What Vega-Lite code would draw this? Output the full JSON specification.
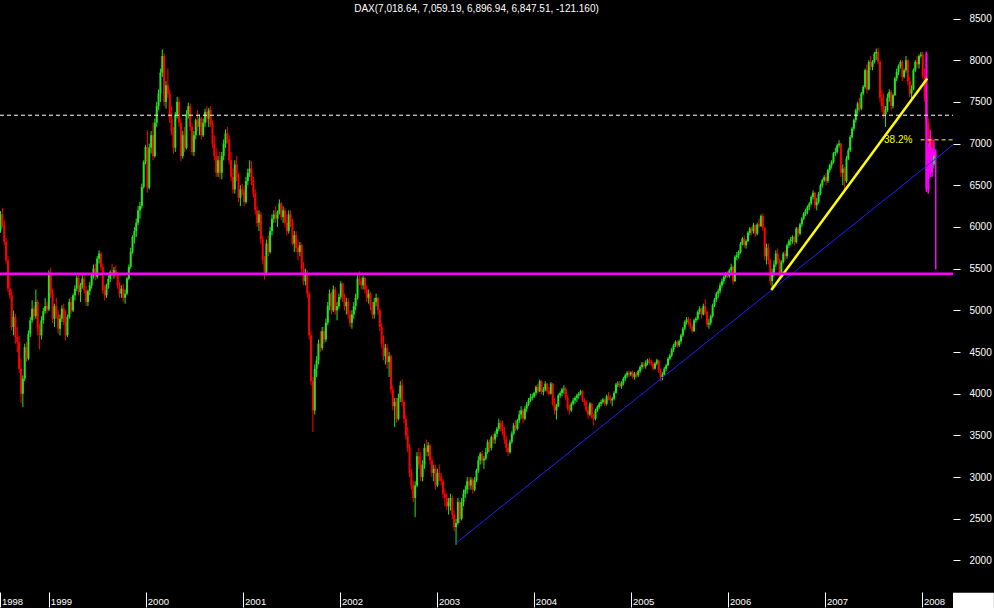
{
"$schema":"https://vega.github.io/schema/vega-lite/v6.json",
"width":953,"height":592,
"autosize":{"type":"none"},
"padding":{"left":0,"top":0,"right":41,"bottom":16},
"background":"#000000",
"config":{"view":{"stroke":null},"axis":{"grid":false}},
"resolve":{"axis":{"x":"independent","y":"independent"}},
"datasets":{
"w":[
{"d":"1998-184","o":5960,"h":6190,"l":5930,"c":6150},
{"d":"1998-191","o":6150,"h":6230,"l":5990,"c":6020},
{"d":"1998-198","o":6020,"h":6080,"l":5780,"c":5820},
{"d":"1998-205","o":5820,"h":5870,"l":5560,"c":5600},
{"d":"1998-212","o":5600,"h":5650,"l":5220,"c":5260},
{"d":"1998-219","o":5260,"h":5400,"l":5140,"c":5180},
{"d":"1998-226","o":5180,"h":5250,"l":4760,"c":4800},
{"d":"1998-233","o":4800,"h":5000,"l":4700,"c":4920},
{"d":"1998-240","o":4920,"h":4960,"l":4600,"c":4680},
{"d":"1998-247","o":4680,"h":4800,"l":4500,"c":4620},
{"d":"1998-254","o":4620,"h":4700,"l":4250,"c":4300},
{"d":"1998-261","o":4300,"h":4420,"l":3890,"c":4000},
{"d":"1998-268","o":4000,"h":4220,"l":3840,"c":4180},
{"d":"1998-275","o":4180,"h":4600,"l":4150,"c":4560},
{"d":"1998-282","o":4560,"h":4620,"l":4380,"c":4420},
{"d":"1998-289","o":4420,"h":4760,"l":4400,"c":4720},
{"d":"1998-296","o":4720,"h":4920,"l":4680,"c":4880},
{"d":"1998-303","o":4880,"h":5120,"l":4850,"c":5020},
{"d":"1998-310","o":5020,"h":5060,"l":4880,"c":4930},
{"d":"1998-317","o":4930,"h":5250,"l":4900,"c":5100},
{"d":"1998-324","o":5100,"h":5130,"l":4700,"c":4780},
{"d":"1998-331","o":4780,"h":4840,"l":4530,"c":4700},
{"d":"1998-338","o":4700,"h":4930,"l":4650,"c":4880},
{"d":"1998-345","o":4880,"h":5030,"l":4840,"c":4990},
{"d":"1998-352","o":4990,"h":5150,"l":4960,"c":5050},
{"d":"1998-359","o":5050,"h":5100,"l":4960,"c":5010},
{"d":"1999-001","o":5010,"h":5480,"l":4990,"c":5450},
{"d":"1999-008","o":5450,"h":5510,"l":5150,"c":5200},
{"d":"1999-015","o":5200,"h":5260,"l":4850,"c":4900},
{"d":"1999-022","o":4900,"h":5080,"l":4800,"c":5050},
{"d":"1999-029","o":5050,"h":5150,"l":4900,"c":4950},
{"d":"1999-036","o":4950,"h":5000,"l":4720,"c":4780},
{"d":"1999-043","o":4780,"h":4950,"l":4700,"c":4900},
{"d":"1999-050","o":4900,"h":5060,"l":4860,"c":5020},
{"d":"1999-057","o":5020,"h":5080,"l":4820,"c":4860},
{"d":"1999-064","o":4860,"h":5000,"l":4640,"c":4700},
{"d":"1999-071","o":4700,"h":4950,"l":4680,"c":4920},
{"d":"1999-078","o":4920,"h":5140,"l":4900,"c":5100},
{"d":"1999-085","o":5100,"h":5160,"l":4960,"c":5000},
{"d":"1999-092","o":5000,"h":5200,"l":4980,"c":5180},
{"d":"1999-099","o":5180,"h":5300,"l":5120,"c":5260},
{"d":"1999-106","o":5260,"h":5420,"l":5230,"c":5390},
{"d":"1999-113","o":5390,"h":5450,"l":5180,"c":5220},
{"d":"1999-120","o":5220,"h":5330,"l":5100,"c":5300},
{"d":"1999-127","o":5300,"h":5420,"l":5260,"c":5380},
{"d":"1999-134","o":5380,"h":5450,"l":5200,"c":5240},
{"d":"1999-141","o":5240,"h":5290,"l":5050,"c":5100},
{"d":"1999-148","o":5100,"h":5250,"l":5050,"c":5230},
{"d":"1999-155","o":5230,"h":5340,"l":5180,"c":5300},
{"d":"1999-162","o":5300,"h":5450,"l":5260,"c":5420},
{"d":"1999-169","o":5420,"h":5550,"l":5380,"c":5500},
{"d":"1999-176","o":5500,"h":5560,"l":5360,"c":5400},
{"d":"1999-183","o":5400,"h":5650,"l":5380,"c":5620},
{"d":"1999-190","o":5620,"h":5720,"l":5560,"c":5680},
{"d":"1999-197","o":5680,"h":5700,"l":5480,"c":5520},
{"d":"1999-204","o":5520,"h":5560,"l":5200,"c":5240},
{"d":"1999-211","o":5240,"h":5300,"l":5120,"c":5180},
{"d":"1999-218","o":5180,"h":5320,"l":5150,"c":5300},
{"d":"1999-225","o":5300,"h":5420,"l":5260,"c":5380},
{"d":"1999-232","o":5380,"h":5480,"l":5340,"c":5460},
{"d":"1999-239","o":5460,"h":5560,"l":5400,"c":5420},
{"d":"1999-246","o":5420,"h":5520,"l":5380,"c":5480},
{"d":"1999-253","o":5480,"h":5540,"l":5400,"c":5430},
{"d":"1999-260","o":5430,"h":5460,"l":5260,"c":5300},
{"d":"1999-267","o":5300,"h":5340,"l":5150,"c":5200},
{"d":"1999-274","o":5200,"h":5300,"l":5150,"c":5260},
{"d":"1999-281","o":5260,"h":5320,"l":5100,"c":5150},
{"d":"1999-288","o":5150,"h":5250,"l":5080,"c":5200},
{"d":"1999-295","o":5200,"h":5400,"l":5180,"c":5380},
{"d":"1999-302","o":5380,"h":5550,"l":5360,"c":5520},
{"d":"1999-309","o":5520,"h":5750,"l":5500,"c":5700},
{"d":"1999-316","o":5700,"h":5900,"l":5680,"c":5880},
{"d":"1999-323","o":5880,"h":6000,"l":5800,"c":5950},
{"d":"1999-330","o":5950,"h":6100,"l":5880,"c":6050},
{"d":"1999-337","o":6050,"h":6250,"l":6020,"c":6200},
{"d":"1999-344","o":6200,"h":6300,"l":6100,"c":6250},
{"d":"1999-351","o":6250,"h":6520,"l":6220,"c":6480},
{"d":"1999-358","o":6480,"h":6800,"l":6460,"c":6780},
{"d":"1999-365","o":6780,"h":6980,"l":6750,"c":6958},
{"d":"2000-007","o":6958,"h":7160,"l":6410,"c":6470},
{"d":"2000-014","o":6470,"h":7000,"l":6450,"c":6950},
{"d":"2000-021","o":6950,"h":7150,"l":6880,"c":7100},
{"d":"2000-028","o":7100,"h":7250,"l":6800,"c":6850},
{"d":"2000-035","o":6850,"h":7300,"l":6830,"c":7250},
{"d":"2000-042","o":7250,"h":7500,"l":7200,"c":7450},
{"d":"2000-049","o":7450,"h":7650,"l":7400,"c":7600},
{"d":"2000-056","o":7600,"h":7900,"l":7500,"c":7850},
{"d":"2000-063","o":7850,"h":8130,"l":7800,"c":8050},
{"d":"2000-070","o":8050,"h":8080,"l":7450,"c":7500},
{"d":"2000-077","o":7500,"h":7750,"l":7420,"c":7700},
{"d":"2000-084","o":7700,"h":7900,"l":7550,"c":7600},
{"d":"2000-091","o":7600,"h":7650,"l":7250,"c":7300},
{"d":"2000-098","o":7300,"h":7450,"l":7100,"c":7150},
{"d":"2000-105","o":7150,"h":7200,"l":6880,"c":6950},
{"d":"2000-112","o":6950,"h":7380,"l":6900,"c":7350},
{"d":"2000-119","o":7350,"h":7560,"l":7300,"c":7500},
{"d":"2000-126","o":7500,"h":7550,"l":7200,"c":7250},
{"d":"2000-133","o":7250,"h":7300,"l":6790,"c":6850},
{"d":"2000-140","o":6850,"h":7150,"l":6820,"c":7100},
{"d":"2000-147","o":7100,"h":7200,"l":6900,"c":6950},
{"d":"2000-154","o":6950,"h":7400,"l":6930,"c":7350},
{"d":"2000-161","o":7350,"h":7490,"l":7300,"c":7450},
{"d":"2000-168","o":7450,"h":7480,"l":7150,"c":7200},
{"d":"2000-175","o":7200,"h":7250,"l":6860,"c":6900},
{"d":"2000-182","o":6900,"h":7150,"l":6850,"c":7100},
{"d":"2000-189","o":7100,"h":7300,"l":7050,"c":7280},
{"d":"2000-196","o":7280,"h":7400,"l":7150,"c":7200},
{"d":"2000-203","o":7200,"h":7350,"l":7100,"c":7300},
{"d":"2000-210","o":7300,"h":7320,"l":7050,"c":7100},
{"d":"2000-217","o":7100,"h":7300,"l":7080,"c":7250},
{"d":"2000-224","o":7250,"h":7420,"l":7200,"c":7380},
{"d":"2000-231","o":7380,"h":7450,"l":7250,"c":7300},
{"d":"2000-238","o":7300,"h":7430,"l":7200,"c":7400},
{"d":"2000-245","o":7400,"h":7450,"l":7200,"c":7230},
{"d":"2000-252","o":7230,"h":7280,"l":6950,"c":7000},
{"d":"2000-259","o":7000,"h":7100,"l":6800,"c":6850},
{"d":"2000-266","o":6850,"h":6950,"l":6600,"c":6650},
{"d":"2000-273","o":6650,"h":6850,"l":6600,"c":6800},
{"d":"2000-280","o":6800,"h":6900,"l":6580,"c":6650},
{"d":"2000-287","o":6650,"h":6900,"l":6570,"c":6850},
{"d":"2000-294","o":6850,"h":7050,"l":6800,"c":7000},
{"d":"2000-301","o":7000,"h":7170,"l":6950,"c":7120},
{"d":"2000-308","o":7120,"h":7200,"l":7000,"c":7050},
{"d":"2000-315","o":7050,"h":7100,"l":6750,"c":6800},
{"d":"2000-322","o":6800,"h":6900,"l":6550,"c":6600},
{"d":"2000-329","o":6600,"h":6700,"l":6400,"c":6450},
{"d":"2000-336","o":6450,"h":6800,"l":6400,"c":6750},
{"d":"2000-343","o":6750,"h":6850,"l":6550,"c":6600},
{"d":"2000-350","o":6600,"h":6650,"l":6300,"c":6350},
{"d":"2000-357","o":6350,"h":6500,"l":6250,"c":6450},
{"d":"2000-364","o":6450,"h":6520,"l":6380,"c":6434},
{"d":"2001-005","o":6434,"h":6500,"l":6250,"c":6300},
{"d":"2001-012","o":6300,"h":6600,"l":6280,"c":6550},
{"d":"2001-019","o":6550,"h":6700,"l":6500,"c":6650},
{"d":"2001-026","o":6650,"h":6800,"l":6600,"c":6700},
{"d":"2001-033","o":6700,"h":6790,"l":6500,"c":6550},
{"d":"2001-040","o":6550,"h":6600,"l":6350,"c":6400},
{"d":"2001-047","o":6400,"h":6450,"l":6150,"c":6200},
{"d":"2001-054","o":6200,"h":6250,"l":6000,"c":6050},
{"d":"2001-061","o":6050,"h":6200,"l":5950,"c":6150},
{"d":"2001-068","o":6150,"h":6180,"l":5800,"c":5850},
{"d":"2001-075","o":5850,"h":5900,"l":5550,"c":5600},
{"d":"2001-082","o":5600,"h":5650,"l":5370,"c":5450},
{"d":"2001-089","o":5450,"h":5850,"l":5420,"c":5800},
{"d":"2001-096","o":5800,"h":5900,"l":5650,"c":5700},
{"d":"2001-103","o":5700,"h":6000,"l":5680,"c":5950},
{"d":"2001-110","o":5950,"h":6150,"l":5900,"c":6100},
{"d":"2001-117","o":6100,"h":6200,"l":6050,"c":6150},
{"d":"2001-124","o":6150,"h":6250,"l":6050,"c":6100},
{"d":"2001-131","o":6100,"h":6200,"l":6000,"c":6180},
{"d":"2001-138","o":6180,"h":6330,"l":6150,"c":6280},
{"d":"2001-145","o":6280,"h":6300,"l":6080,"c":6120},
{"d":"2001-152","o":6120,"h":6250,"l":6050,"c":6200},
{"d":"2001-159","o":6200,"h":6230,"l":6000,"c":6050},
{"d":"2001-166","o":6050,"h":6150,"l":5900,"c":5950},
{"d":"2001-173","o":5950,"h":6200,"l":5920,"c":6150},
{"d":"2001-180","o":6150,"h":6200,"l":6000,"c":6050},
{"d":"2001-187","o":6050,"h":6100,"l":5780,"c":5800},
{"d":"2001-194","o":5800,"h":5950,"l":5700,"c":5900},
{"d":"2001-201","o":5900,"h":5950,"l":5700,"c":5750},
{"d":"2001-208","o":5750,"h":5850,"l":5600,"c":5700},
{"d":"2001-215","o":5700,"h":5820,"l":5650,"c":5780},
{"d":"2001-222","o":5780,"h":5800,"l":5450,"c":5500},
{"d":"2001-229","o":5500,"h":5580,"l":5300,"c":5350},
{"d":"2001-236","o":5350,"h":5500,"l":5300,"c":5450},
{"d":"2001-243","o":5450,"h":5480,"l":5150,"c":5200},
{"d":"2001-250","o":5200,"h":5230,"l":4650,"c":4700},
{"d":"2001-257","o":4700,"h":4750,"l":4100,"c":4150},
{"d":"2001-264","o":4150,"h":4200,"l":3540,"c":3800},
{"d":"2001-271","o":3800,"h":4350,"l":3750,"c":4300},
{"d":"2001-278","o":4300,"h":4450,"l":4200,"c":4400},
{"d":"2001-285","o":4400,"h":4650,"l":4350,"c":4600},
{"d":"2001-292","o":4600,"h":4750,"l":4500,"c":4550},
{"d":"2001-299","o":4550,"h":4800,"l":4520,"c":4750},
{"d":"2001-306","o":4750,"h":4800,"l":4600,"c":4650},
{"d":"2001-313","o":4650,"h":4900,"l":4620,"c":4850},
{"d":"2001-320","o":4850,"h":5100,"l":4820,"c":5050},
{"d":"2001-327","o":5050,"h":5250,"l":5000,"c":5200},
{"d":"2001-334","o":5200,"h":5220,"l":4950,"c":5000},
{"d":"2001-341","o":5000,"h":5300,"l":4980,"c":5250},
{"d":"2001-348","o":5250,"h":5280,"l":4950,"c":5000},
{"d":"2001-355","o":5000,"h":5100,"l":4880,"c":5050},
{"d":"2001-362","o":5050,"h":5200,"l":5020,"c":5160},
{"d":"2002-004","o":5160,"h":5350,"l":5130,"c":5320},
{"d":"2002-011","o":5320,"h":5330,"l":5100,"c":5150},
{"d":"2002-018","o":5150,"h":5200,"l":5000,"c":5050},
{"d":"2002-025","o":5050,"h":5150,"l":4950,"c":5100},
{"d":"2002-032","o":5100,"h":5150,"l":4900,"c":4950},
{"d":"2002-039","o":4950,"h":5000,"l":4800,"c":4850},
{"d":"2002-046","o":4850,"h":5000,"l":4780,"c":4950},
{"d":"2002-053","o":4950,"h":5100,"l":4900,"c":5050},
{"d":"2002-060","o":5050,"h":5200,"l":5000,"c":5150},
{"d":"2002-067","o":5150,"h":5420,"l":5130,"c":5380},
{"d":"2002-074","o":5380,"h":5467,"l":5300,"c":5350},
{"d":"2002-081","o":5350,"h":5400,"l":5250,"c":5300},
{"d":"2002-088","o":5300,"h":5420,"l":5250,"c":5390},
{"d":"2002-095","o":5390,"h":5400,"l":5200,"c":5250},
{"d":"2002-102","o":5250,"h":5300,"l":5100,"c":5150},
{"d":"2002-109","o":5150,"h":5250,"l":5080,"c":5200},
{"d":"2002-116","o":5200,"h":5220,"l":5000,"c":5050},
{"d":"2002-123","o":5050,"h":5100,"l":4900,"c":4950},
{"d":"2002-130","o":4950,"h":5150,"l":4900,"c":5100},
{"d":"2002-137","o":5100,"h":5200,"l":5050,"c":5150},
{"d":"2002-144","o":5150,"h":5160,"l":4950,"c":5000},
{"d":"2002-151","o":5000,"h":5020,"l":4750,"c":4800},
{"d":"2002-158","o":4800,"h":4850,"l":4550,"c":4600},
{"d":"2002-165","o":4600,"h":4700,"l":4400,"c":4450},
{"d":"2002-172","o":4450,"h":4600,"l":4350,"c":4550},
{"d":"2002-179","o":4550,"h":4600,"l":4300,"c":4380},
{"d":"2002-186","o":4380,"h":4500,"l":4200,"c":4450},
{"d":"2002-193","o":4450,"h":4470,"l":4000,"c":4050},
{"d":"2002-200","o":4050,"h":4100,"l":3800,"c":3850},
{"d":"2002-207","o":3850,"h":3950,"l":3600,"c":3900},
{"d":"2002-214","o":3900,"h":3950,"l":3650,"c":3700},
{"d":"2002-221","o":3700,"h":4000,"l":3680,"c":3950},
{"d":"2002-228","o":3950,"h":4150,"l":3900,"c":4100},
{"d":"2002-235","o":4100,"h":4170,"l":3850,"c":3900},
{"d":"2002-242","o":3900,"h":3920,"l":3650,"c":3700},
{"d":"2002-249","o":3700,"h":3750,"l":3450,"c":3500},
{"d":"2002-256","o":3500,"h":3600,"l":3300,"c":3350},
{"d":"2002-263","o":3350,"h":3400,"l":3000,"c":3050},
{"d":"2002-270","o":3050,"h":3100,"l":2850,"c":2900},
{"d":"2002-277","o":2900,"h":2950,"l":2700,"c":2750},
{"d":"2002-284","o":2750,"h":2950,"l":2520,"c":2900},
{"d":"2002-291","o":2900,"h":3300,"l":2880,"c":3250},
{"d":"2002-298","o":3250,"h":3350,"l":3100,"c":3150},
{"d":"2002-305","o":3150,"h":3300,"l":2950,"c":3000},
{"d":"2002-312","o":3000,"h":3200,"l":2950,"c":3150},
{"d":"2002-319","o":3150,"h":3400,"l":3100,"c":3350},
{"d":"2002-326","o":3350,"h":3450,"l":3250,"c":3300},
{"d":"2002-333","o":3300,"h":3420,"l":3250,"c":3380},
{"d":"2002-340","o":3380,"h":3400,"l":3150,"c":3200},
{"d":"2002-347","o":3200,"h":3250,"l":3000,"c":3050},
{"d":"2002-354","o":3050,"h":3150,"l":2950,"c":3100},
{"d":"2002-361","o":3100,"h":3150,"l":2850,"c":2900},
{"d":"2003-003","o":2900,"h":3100,"l":2880,"c":3050},
{"d":"2003-010","o":3050,"h":3150,"l":2950,"c":3000},
{"d":"2003-017","o":3000,"h":3050,"l":2900,"c":2950},
{"d":"2003-024","o":2950,"h":2980,"l":2750,"c":2800},
{"d":"2003-031","o":2800,"h":2850,"l":2650,"c":2750},
{"d":"2003-038","o":2750,"h":2800,"l":2600,"c":2650},
{"d":"2003-045","o":2650,"h":2750,"l":2550,"c":2700},
{"d":"2003-052","o":2700,"h":2800,"l":2600,"c":2750},
{"d":"2003-059","o":2750,"h":2780,"l":2500,"c":2550},
{"d":"2003-066","o":2550,"h":2600,"l":2350,"c":2400},
{"d":"2003-073","o":2400,"h":2500,"l":2188,"c":2450},
{"d":"2003-080","o":2450,"h":2750,"l":2430,"c":2700},
{"d":"2003-087","o":2700,"h":2720,"l":2450,"c":2500},
{"d":"2003-094","o":2500,"h":2750,"l":2480,"c":2700},
{"d":"2003-101","o":2700,"h":2850,"l":2650,"c":2800},
{"d":"2003-108","o":2800,"h":2900,"l":2750,"c":2850},
{"d":"2003-115","o":2850,"h":3000,"l":2800,"c":2950},
{"d":"2003-122","o":2950,"h":3000,"l":2850,"c":2900},
{"d":"2003-129","o":2900,"h":3000,"l":2850,"c":2970},
{"d":"2003-136","o":2970,"h":2990,"l":2800,"c":2850},
{"d":"2003-143","o":2850,"h":3000,"l":2830,"c":2960},
{"d":"2003-150","o":2960,"h":3100,"l":2940,"c":3080},
{"d":"2003-157","o":3080,"h":3250,"l":3050,"c":3200},
{"d":"2003-164","o":3200,"h":3300,"l":3150,"c":3280},
{"d":"2003-171","o":3280,"h":3320,"l":3150,"c":3200},
{"d":"2003-178","o":3200,"h":3250,"l":3100,"c":3220},
{"d":"2003-185","o":3220,"h":3350,"l":3200,"c":3300},
{"d":"2003-192","o":3300,"h":3450,"l":3280,"c":3420},
{"d":"2003-199","o":3420,"h":3450,"l":3300,"c":3350},
{"d":"2003-206","o":3350,"h":3500,"l":3320,"c":3480},
{"d":"2003-213","o":3480,"h":3520,"l":3400,"c":3450},
{"d":"2003-220","o":3450,"h":3550,"l":3400,"c":3520},
{"d":"2003-227","o":3520,"h":3600,"l":3480,"c":3580},
{"d":"2003-234","o":3580,"h":3700,"l":3550,"c":3650},
{"d":"2003-241","o":3650,"h":3680,"l":3550,"c":3600},
{"d":"2003-248","o":3600,"h":3680,"l":3500,"c":3550},
{"d":"2003-255","o":3550,"h":3600,"l":3400,"c":3450},
{"d":"2003-262","o":3450,"h":3500,"l":3300,"c":3350},
{"d":"2003-269","o":3350,"h":3400,"l":3250,"c":3300},
{"d":"2003-276","o":3300,"h":3450,"l":3280,"c":3420},
{"d":"2003-283","o":3420,"h":3550,"l":3400,"c":3520},
{"d":"2003-290","o":3520,"h":3650,"l":3500,"c":3620},
{"d":"2003-297","o":3620,"h":3680,"l":3550,"c":3580},
{"d":"2003-304","o":3580,"h":3700,"l":3560,"c":3680},
{"d":"2003-311","o":3680,"h":3800,"l":3650,"c":3750},
{"d":"2003-318","o":3750,"h":3850,"l":3700,"c":3800},
{"d":"2003-325","o":3800,"h":3820,"l":3650,"c":3700},
{"d":"2003-332","o":3700,"h":3850,"l":3680,"c":3820},
{"d":"2003-339","o":3820,"h":3900,"l":3780,"c":3870},
{"d":"2003-346","o":3870,"h":3950,"l":3850,"c":3920},
{"d":"2003-353","o":3920,"h":4000,"l":3900,"c":3950},
{"d":"2003-360","o":3950,"h":4000,"l":3920,"c":3965},
{"d":"2004-002","o":3965,"h":4020,"l":3950,"c":4010},
{"d":"2004-009","o":4010,"h":4100,"l":3980,"c":4080},
{"d":"2004-016","o":4080,"h":4120,"l":4000,"c":4030},
{"d":"2004-023","o":4030,"h":4170,"l":4020,"c":4150},
{"d":"2004-030","o":4150,"h":4160,"l":3990,"c":4020},
{"d":"2004-037","o":4020,"h":4080,"l":3980,"c":4050},
{"d":"2004-044","o":4050,"h":4150,"l":4030,"c":4120},
{"d":"2004-051","o":4120,"h":4130,"l":4000,"c":4030},
{"d":"2004-058","o":4030,"h":4080,"l":3980,"c":4000},
{"d":"2004-065","o":4000,"h":4140,"l":3990,"c":4120},
{"d":"2004-072","o":4120,"h":4130,"l":3850,"c":3880},
{"d":"2004-079","o":3880,"h":3950,"l":3750,"c":3800},
{"d":"2004-086","o":3800,"h":3880,"l":3690,"c":3850},
{"d":"2004-093","o":3850,"h":4000,"l":3840,"c":3980},
{"d":"2004-100","o":3980,"h":4030,"l":3950,"c":4010},
{"d":"2004-107","o":4010,"h":4070,"l":3970,"c":4050},
{"d":"2004-114","o":4050,"h":4100,"l":4000,"c":4060},
{"d":"2004-121","o":4060,"h":4080,"l":3920,"c":3950},
{"d":"2004-128","o":3950,"h":3980,"l":3800,"c":3830},
{"d":"2004-135","o":3830,"h":3870,"l":3750,"c":3800},
{"d":"2004-142","o":3800,"h":3900,"l":3780,"c":3880},
{"d":"2004-149","o":3880,"h":3950,"l":3860,"c":3920},
{"d":"2004-156","o":3920,"h":3970,"l":3880,"c":3950},
{"d":"2004-163","o":3950,"h":4000,"l":3900,"c":3980},
{"d":"2004-170","o":3980,"h":4020,"l":3940,"c":4000},
{"d":"2004-177","o":4000,"h":4050,"l":3980,"c":4030},
{"d":"2004-184","o":4030,"h":4040,"l":3900,"c":3920},
{"d":"2004-191","o":3920,"h":3950,"l":3850,"c":3900},
{"d":"2004-198","o":3900,"h":3920,"l":3780,"c":3800},
{"d":"2004-205","o":3800,"h":3850,"l":3700,"c":3750},
{"d":"2004-212","o":3750,"h":3900,"l":3730,"c":3880},
{"d":"2004-219","o":3880,"h":3890,"l":3700,"c":3720},
{"d":"2004-226","o":3720,"h":3760,"l":3620,"c":3700},
{"d":"2004-233","o":3700,"h":3820,"l":3680,"c":3800},
{"d":"2004-240","o":3800,"h":3860,"l":3780,"c":3840},
{"d":"2004-247","o":3840,"h":3900,"l":3820,"c":3880},
{"d":"2004-254","o":3880,"h":3930,"l":3850,"c":3900},
{"d":"2004-261","o":3900,"h":3950,"l":3880,"c":3930},
{"d":"2004-268","o":3930,"h":3940,"l":3850,"c":3880},
{"d":"2004-275","o":3880,"h":3990,"l":3860,"c":3970},
{"d":"2004-282","o":3970,"h":4020,"l":3920,"c":3950},
{"d":"2004-289","o":3950,"h":3980,"l":3880,"c":3920},
{"d":"2004-296","o":3920,"h":3960,"l":3850,"c":3940},
{"d":"2004-303","o":3940,"h":4030,"l":3920,"c":4010},
{"d":"2004-310","o":4010,"h":4130,"l":4000,"c":4110},
{"d":"2004-317","o":4110,"h":4150,"l":4080,"c":4120},
{"d":"2004-324","o":4120,"h":4150,"l":4070,"c":4090},
{"d":"2004-331","o":4090,"h":4150,"l":4060,"c":4130},
{"d":"2004-338","o":4130,"h":4200,"l":4100,"c":4180},
{"d":"2004-345","o":4180,"h":4240,"l":4150,"c":4220},
{"d":"2004-352","o":4220,"h":4270,"l":4190,"c":4250},
{"d":"2004-359","o":4250,"h":4280,"l":4200,"c":4230},
{"d":"2004-366","o":4230,"h":4270,"l":4210,"c":4256},
{"d":"2005-007","o":4256,"h":4280,"l":4180,"c":4200},
{"d":"2005-014","o":4200,"h":4260,"l":4170,"c":4240},
{"d":"2005-021","o":4240,"h":4260,"l":4190,"c":4220},
{"d":"2005-028","o":4220,"h":4290,"l":4200,"c":4270},
{"d":"2005-035","o":4270,"h":4340,"l":4250,"c":4320},
{"d":"2005-042","o":4320,"h":4380,"l":4290,"c":4350},
{"d":"2005-049","o":4350,"h":4380,"l":4300,"c":4330},
{"d":"2005-056","o":4330,"h":4400,"l":4300,"c":4370},
{"d":"2005-063","o":4370,"h":4420,"l":4340,"c":4400},
{"d":"2005-070","o":4400,"h":4430,"l":4350,"c":4380},
{"d":"2005-077","o":4380,"h":4410,"l":4330,"c":4360},
{"d":"2005-084","o":4360,"h":4380,"l":4280,"c":4300},
{"d":"2005-091","o":4300,"h":4380,"l":4290,"c":4360},
{"d":"2005-098","o":4360,"h":4420,"l":4340,"c":4400},
{"d":"2005-105","o":4400,"h":4410,"l":4250,"c":4280},
{"d":"2005-112","o":4280,"h":4300,"l":4150,"c":4200},
{"d":"2005-119","o":4200,"h":4260,"l":4160,"c":4230},
{"d":"2005-126","o":4230,"h":4320,"l":4220,"c":4300},
{"d":"2005-133","o":4300,"h":4360,"l":4270,"c":4340},
{"d":"2005-140","o":4340,"h":4440,"l":4330,"c":4420},
{"d":"2005-147","o":4420,"h":4480,"l":4400,"c":4460},
{"d":"2005-154","o":4460,"h":4550,"l":4440,"c":4530},
{"d":"2005-161","o":4530,"h":4600,"l":4500,"c":4580},
{"d":"2005-168","o":4580,"h":4640,"l":4560,"c":4620},
{"d":"2005-175","o":4620,"h":4640,"l":4550,"c":4580},
{"d":"2005-182","o":4580,"h":4650,"l":4560,"c":4630},
{"d":"2005-189","o":4630,"h":4720,"l":4600,"c":4700},
{"d":"2005-196","o":4700,"h":4800,"l":4680,"c":4780},
{"d":"2005-203","o":4780,"h":4880,"l":4760,"c":4860},
{"d":"2005-210","o":4860,"h":4920,"l":4830,"c":4890},
{"d":"2005-217","o":4890,"h":4920,"l":4820,"c":4850},
{"d":"2005-224","o":4850,"h":4900,"l":4780,"c":4800},
{"d":"2005-231","o":4800,"h":4830,"l":4730,"c":4750},
{"d":"2005-238","o":4750,"h":4900,"l":4740,"c":4880},
{"d":"2005-245","o":4880,"h":4920,"l":4850,"c":4900},
{"d":"2005-252","o":4900,"h":5000,"l":4880,"c":4980},
{"d":"2005-259","o":4980,"h":5050,"l":4950,"c":5020},
{"d":"2005-266","o":5020,"h":5030,"l":4900,"c":4950},
{"d":"2005-273","o":4950,"h":5080,"l":4940,"c":5050},
{"d":"2005-280","o":5050,"h":5130,"l":4950,"c":4980},
{"d":"2005-287","o":4980,"h":5000,"l":4800,"c":4830},
{"d":"2005-294","o":4830,"h":4900,"l":4780,"c":4850},
{"d":"2005-301","o":4850,"h":4950,"l":4820,"c":4930},
{"d":"2005-308","o":4930,"h":5080,"l":4910,"c":5060},
{"d":"2005-315","o":5060,"h":5150,"l":5040,"c":5130},
{"d":"2005-322","o":5130,"h":5220,"l":5100,"c":5200},
{"d":"2005-329","o":5200,"h":5260,"l":5150,"c":5230},
{"d":"2005-336","o":5230,"h":5330,"l":5200,"c":5300},
{"d":"2005-343","o":5300,"h":5380,"l":5270,"c":5350},
{"d":"2005-350","o":5350,"h":5420,"l":5320,"c":5400},
{"d":"2005-357","o":5400,"h":5460,"l":5380,"c":5440},
{"d":"2005-364","o":5440,"h":5470,"l":5390,"c":5408},
{"d":"2006-006","o":5408,"h":5500,"l":5390,"c":5480},
{"d":"2006-013","o":5480,"h":5560,"l":5440,"c":5520},
{"d":"2006-020","o":5520,"h":5540,"l":5310,"c":5350},
{"d":"2006-027","o":5350,"h":5660,"l":5340,"c":5640},
{"d":"2006-034","o":5640,"h":5700,"l":5600,"c":5660},
{"d":"2006-041","o":5660,"h":5720,"l":5620,"c":5700},
{"d":"2006-048","o":5700,"h":5820,"l":5680,"c":5800},
{"d":"2006-055","o":5800,"h":5880,"l":5780,"c":5860},
{"d":"2006-062","o":5860,"h":5900,"l":5750,"c":5780},
{"d":"2006-069","o":5780,"h":5850,"l":5740,"c":5830},
{"d":"2006-076","o":5830,"h":5950,"l":5820,"c":5930},
{"d":"2006-083","o":5930,"h":6000,"l":5900,"c":5980},
{"d":"2006-090","o":5980,"h":6000,"l":5900,"c":5950},
{"d":"2006-097","o":5950,"h":6050,"l":5920,"c":6020},
{"d":"2006-104","o":6020,"h":6030,"l":5880,"c":5920},
{"d":"2006-111","o":5920,"h":6050,"l":5900,"c":6030},
{"d":"2006-118","o":6030,"h":6100,"l":5990,"c":6010},
{"d":"2006-125","o":6010,"h":6150,"l":6000,"c":6130},
{"d":"2006-132","o":6130,"h":6162,"l":5950,"c":5990},
{"d":"2006-139","o":5990,"h":6000,"l":5600,"c":5650},
{"d":"2006-146","o":5650,"h":5800,"l":5550,"c":5750},
{"d":"2006-153","o":5750,"h":5800,"l":5550,"c":5600},
{"d":"2006-160","o":5600,"h":5620,"l":5300,"c":5350},
{"d":"2006-167","o":5350,"h":5500,"l":5243,"c":5450},
{"d":"2006-174","o":5450,"h":5600,"l":5400,"c":5550},
{"d":"2006-181","o":5550,"h":5720,"l":5520,"c":5680},
{"d":"2006-188","o":5680,"h":5740,"l":5560,"c":5600},
{"d":"2006-195","o":5600,"h":5620,"l":5400,"c":5450},
{"d":"2006-202","o":5450,"h":5600,"l":5420,"c":5580},
{"d":"2006-209","o":5580,"h":5700,"l":5560,"c":5680},
{"d":"2006-216","o":5680,"h":5720,"l":5600,"c":5650},
{"d":"2006-223","o":5650,"h":5800,"l":5620,"c":5780},
{"d":"2006-230","o":5780,"h":5850,"l":5750,"c":5830},
{"d":"2006-237","o":5830,"h":5880,"l":5780,"c":5850},
{"d":"2006-244","o":5850,"h":5900,"l":5800,"c":5880},
{"d":"2006-251","o":5880,"h":5890,"l":5780,"c":5820},
{"d":"2006-258","o":5820,"h":6000,"l":5800,"c":5980},
{"d":"2006-265","o":5980,"h":6000,"l":5880,"c":5920},
{"d":"2006-272","o":5920,"h":6050,"l":5900,"c":6030},
{"d":"2006-279","o":6030,"h":6120,"l":6000,"c":6100},
{"d":"2006-286","o":6100,"h":6180,"l":6080,"c":6160},
{"d":"2006-293","o":6160,"h":6220,"l":6130,"c":6200},
{"d":"2006-300","o":6200,"h":6260,"l":6150,"c":6240},
{"d":"2006-307","o":6240,"h":6300,"l":6200,"c":6280},
{"d":"2006-314","o":6280,"h":6380,"l":6260,"c":6360},
{"d":"2006-321","o":6360,"h":6440,"l":6330,"c":6410},
{"d":"2006-328","o":6410,"h":6420,"l":6220,"c":6260},
{"d":"2006-335","o":6260,"h":6350,"l":6200,"c":6300},
{"d":"2006-342","o":6300,"h":6420,"l":6280,"c":6400},
{"d":"2006-349","o":6400,"h":6520,"l":6380,"c":6500},
{"d":"2006-356","o":6500,"h":6580,"l":6470,"c":6560},
{"d":"2006-363","o":6560,"h":6620,"l":6540,"c":6597},
{"d":"2007-005","o":6597,"h":6650,"l":6500,"c":6550},
{"d":"2007-012","o":6550,"h":6700,"l":6530,"c":6680},
{"d":"2007-019","o":6680,"h":6760,"l":6650,"c":6740},
{"d":"2007-026","o":6740,"h":6800,"l":6700,"c":6780},
{"d":"2007-033","o":6780,"h":6900,"l":6760,"c":6880},
{"d":"2007-040","o":6880,"h":6950,"l":6850,"c":6900},
{"d":"2007-047","o":6900,"h":7000,"l":6880,"c":6980},
{"d":"2007-054","o":6980,"h":7040,"l":6950,"c":7000},
{"d":"2007-061","o":7000,"h":7010,"l":6600,"c":6650},
{"d":"2007-068","o":6650,"h":6750,"l":6500,"c":6700},
{"d":"2007-075","o":6700,"h":6720,"l":6440,"c":6550},
{"d":"2007-082","o":6550,"h":6850,"l":6530,"c":6820},
{"d":"2007-089","o":6820,"h":6950,"l":6800,"c":6920},
{"d":"2007-096","o":6920,"h":7100,"l":6900,"c":7080},
{"d":"2007-103","o":7080,"h":7200,"l":7060,"c":7180},
{"d":"2007-110","o":7180,"h":7300,"l":7150,"c":7280},
{"d":"2007-117","o":7280,"h":7420,"l":7250,"c":7400},
{"d":"2007-124","o":7400,"h":7500,"l":7350,"c":7480},
{"d":"2007-131","o":7480,"h":7550,"l":7380,"c":7420},
{"d":"2007-138","o":7420,"h":7620,"l":7400,"c":7600},
{"d":"2007-145","o":7600,"h":7700,"l":7580,"c":7680},
{"d":"2007-152","o":7680,"h":7900,"l":7660,"c":7880},
{"d":"2007-159","o":7880,"h":7950,"l":7600,"c":7650},
{"d":"2007-166","o":7650,"h":8000,"l":7640,"c":7980},
{"d":"2007-173","o":7980,"h":8050,"l":7880,"c":7920},
{"d":"2007-180","o":7920,"h":8000,"l":7880,"c":7980},
{"d":"2007-187","o":7980,"h":8100,"l":7960,"c":8080},
{"d":"2007-194","o":8080,"h":8140,"l":8000,"c":8100},
{"d":"2007-201","o":8100,"h":8151,"l":7950,"c":7980},
{"d":"2007-208","o":7980,"h":8000,"l":7500,"c":7550},
{"d":"2007-215","o":7550,"h":7650,"l":7380,"c":7450},
{"d":"2007-222","o":7450,"h":7600,"l":7300,"c":7350},
{"d":"2007-229","o":7350,"h":7450,"l":7200,"c":7400},
{"d":"2007-236","o":7400,"h":7600,"l":7380,"c":7550},
{"d":"2007-243","o":7550,"h":7650,"l":7500,"c":7620},
{"d":"2007-250","o":7620,"h":7640,"l":7400,"c":7450},
{"d":"2007-257","o":7450,"h":7600,"l":7420,"c":7580},
{"d":"2007-264","o":7580,"h":7800,"l":7570,"c":7780},
{"d":"2007-271","o":7780,"h":7900,"l":7750,"c":7860},
{"d":"2007-278","o":7860,"h":7950,"l":7820,"c":7930},
{"d":"2007-285","o":7930,"h":8000,"l":7900,"c":7980},
{"d":"2007-292","o":7980,"h":8000,"l":7750,"c":7800},
{"d":"2007-299","o":7800,"h":7900,"l":7780,"c":7880},
{"d":"2007-306","o":7880,"h":8050,"l":7850,"c":8000},
{"d":"2007-313","o":8000,"h":8010,"l":7700,"c":7750},
{"d":"2007-320","o":7750,"h":7800,"l":7560,"c":7600},
{"d":"2007-327","o":7600,"h":7700,"l":7500,"c":7650},
{"d":"2007-334","o":7650,"h":7900,"l":7640,"c":7880},
{"d":"2007-341","o":7880,"h":8000,"l":7860,"c":7980},
{"d":"2007-348","o":7980,"h":8050,"l":7900,"c":7950},
{"d":"2007-355","o":7950,"h":8070,"l":7900,"c":8050},
{"d":"2007-362","o":8050,"h":8100,"l":8030,"c":8067},
{"d":"2008-004","o":8067,"h":8100,"l":7780,"c":7810},
{"d":"2008-011","o":7810,"h":7900,"l":7500,"c":7550},
{"d":"2008-018","o":7550,"h":7650,"l":7200,"c":7250},
{"d":"2008-025","o":7250,"h":7300,"l":6400,"c":6800},
{"d":"2008-032","o":6800,"h":7100,"l":6700,"c":7050},
{"d":"2008-039","o":7050,"h":7080,"l":6700,"c":6750},
{"d":"2008-046","o":6750,"h":6950,"l":6700,"c":6900}
],
"m":[
{"d":"2008-018","o":8080,"h":8104,"l":6420,"c":6450},
{"d":"2008-025","o":6450,"h":7000,"l":6400,"c":6950},
{"d":"2008-032","o":6950,"h":7170,"l":6600,"c":6650},
{"d":"2008-039","o":6650,"h":6950,"l":6600,"c":6900},
{"d":"2008-046","o":6900,"h":7050,"l":6850,"c":6870},
{"d":"2008-053","o":6870,"h":6930,"l":5490,"c":6850}
]
},
"layer":[
{"data":{"name":"w","format":{"parse":{"d":"utc:'%Y-%j'"}}},
 "layer":[
  {"mark":{"type":"rule","strokeWidth":1},
   "encoding":{
    "x":{"field":"d","type":"temporal","scale":{"type":"utc","padding":0,"domain":[{"year":1998,"month":7,"date":1,"utc":true},{"year":2008,"month":4,"date":27,"utc":true}]},
      "axis":{"orient":"bottom","tickCount":{"interval":"month","step":1},"labels":false,"tickSize":4,"title":null,"domainColor":"#ffffff","tickColor":"#ffffff","grid":false}},
    "y":{"field":"l","type":"quantitative","scale":{"domain":[1622,8722],"nice":false,"zero":false,"padding":0},
      "axis":{"orient":"right","values":[1700,1800,1900,2000,2100,2200,2300,2400,2500,2600,2700,2800,2900,3000,3100,3200,3300,3400,3500,3600,3700,3800,3900,4000,4100,4200,4300,4400,4500,4600,4700,4800,4900,5000,5100,5200,5300,5400,5500,5600,5700,5800,5900,6000,6100,6200,6300,6400,6500,6600,6700,6800,6900,7000,7100,7200,7300,7400,7500,7600,7700,7800,7900,8000,8100,8200,8300,8400,8500,8600,8700],"labels":false,"tickSize":4,"title":null,"domainColor":"#ffffff","tickColor":"#ffffff","grid":false}},
    "y2":{"field":"h"},
    "color":{"condition":{"test":"datum.c >= datum.o","value":"#22e622"},"value":"#ff0000"}}},
  {"mark":{"type":"bar","size":2},
   "encoding":{
    "x":{"field":"d","type":"temporal","scale":{"type":"utc","padding":0,"domain":[{"year":1998,"month":7,"date":1,"utc":true},{"year":2008,"month":4,"date":27,"utc":true}]},"axis":null},
    "y":{"field":"o","type":"quantitative","scale":{"domain":[1622,8722],"nice":false,"zero":false,"padding":0},"axis":null},
    "y2":{"field":"c"},
    "color":{"condition":{"test":"datum.c >= datum.o","value":"#22e622"},"value":"#ff0000"}}}
 ]},
{"data":{"name":"m","format":{"parse":{"d":"utc:'%Y-%j'"}}},
 "layer":[
  {"mark":{"type":"rule","strokeWidth":1.5,"color":"#ff00ff"},
   "encoding":{
    "x":{"field":"d","type":"temporal","scale":{"type":"utc","padding":0,"domain":[{"year":1998,"month":7,"date":1,"utc":true},{"year":2008,"month":4,"date":27,"utc":true}]},"axis":null},
    "y":{"field":"l","type":"quantitative","scale":{"domain":[1622,8722],"nice":false,"zero":false,"padding":0},"axis":null},
    "y2":{"field":"h"}}},
  {"mark":{"type":"bar","size":2,"color":"#ff00ff"},
   "encoding":{
    "x":{"field":"d","type":"temporal","scale":{"type":"utc","padding":0,"domain":[{"year":1998,"month":7,"date":1,"utc":true},{"year":2008,"month":4,"date":27,"utc":true}]},"axis":null},
    "y":{"field":"o","type":"quantitative","scale":{"domain":[1622,8722],"nice":false,"zero":false,"padding":0},"axis":null},
    "y2":{"field":"c"}}}
 ]},
{"data":{"values":[{"d":"2003-073","d2":"2008-118","v":2210,"v2":6985}],"format":{"parse":{"d":"utc:'%Y-%j'","d2":"utc:'%Y-%j'"}}},
 "mark":{"type":"rule","color":"#2020ff","strokeWidth":1},
 "encoding":{
  "x":{"field":"d","type":"temporal","scale":{"type":"utc","padding":0,"domain":[{"year":1998,"month":7,"date":1,"utc":true},{"year":2008,"month":4,"date":27,"utc":true}]},"axis":null},
  "x2":{"field":"d2"},
  "y":{"field":"v","type":"quantitative","scale":{"domain":[1622,8722],"nice":false,"zero":false,"padding":0},"axis":null},
  "y2":{"field":"v2"}}},
{"data":{"values":[{"d":"2006-164","d2":"2008-021","v":5243,"v2":7780}],"format":{"parse":{"d":"utc:'%Y-%j'","d2":"utc:'%Y-%j'"}}},
 "mark":{"type":"rule","color":"#ffff00","strokeWidth":2.5},
 "encoding":{
  "x":{"field":"d","type":"temporal","scale":{"type":"utc","padding":0,"domain":[{"year":1998,"month":7,"date":1,"utc":true},{"year":2008,"month":4,"date":27,"utc":true}]},"axis":null},
  "x2":{"field":"d2"},
  "y":{"field":"v","type":"quantitative","scale":{"domain":[1622,8722],"nice":false,"zero":false,"padding":0},"axis":null},
  "y2":{"field":"v2"}}},
{"data":{"values":[{"d":"1998-182","d2":"2008-118","v":5440}],"format":{"parse":{"d":"utc:'%Y-%j'","d2":"utc:'%Y-%j'"}}},
 "mark":{"type":"rule","color":"#ff00ff","strokeWidth":2.5},
 "encoding":{
  "x":{"field":"d","type":"temporal","scale":{"type":"utc","padding":0,"domain":[{"year":1998,"month":7,"date":1,"utc":true},{"year":2008,"month":4,"date":27,"utc":true}]},"axis":null},
  "x2":{"field":"d2"},
  "y":{"field":"v","type":"quantitative","scale":{"domain":[1622,8722],"nice":false,"zero":false,"padding":0},"axis":null}}},
{"data":{"values":[{"d":"1998-182","d2":"2008-118","v":7340}],"format":{"parse":{"d":"utc:'%Y-%j'","d2":"utc:'%Y-%j'"}}},
 "mark":{"type":"rule","color":"#ffffff","strokeWidth":1,"strokeDash":[4,3]},
 "encoding":{
  "x":{"field":"d","type":"temporal","scale":{"type":"utc","padding":0,"domain":[{"year":1998,"month":7,"date":1,"utc":true},{"year":2008,"month":4,"date":27,"utc":true}]},"axis":null},
  "x2":{"field":"d2"},
  "y":{"field":"v","type":"quantitative","scale":{"domain":[1622,8722],"nice":false,"zero":false,"padding":0},"axis":null}}},
{"data":{"values":[{"d":"2007-361","d2":"2008-118","v":7045}],"format":{"parse":{"d":"utc:'%Y-%j'","d2":"utc:'%Y-%j'"}}},
 "mark":{"type":"rule","color":"#ffff00","strokeWidth":1,"strokeDash":[4,3]},
 "encoding":{
  "x":{"field":"d","type":"temporal","scale":{"type":"utc","padding":0,"domain":[{"year":1998,"month":7,"date":1,"utc":true},{"year":2008,"month":4,"date":27,"utc":true}]},"axis":null},
  "x2":{"field":"d2"},
  "y":{"field":"v","type":"quantitative","scale":{"domain":[1622,8722],"nice":false,"zero":false,"padding":0},"axis":null}}},
{"data":{"values":[{"d":"2007-330","v":7045,"t":"38.2%"}],"format":{"parse":{"d":"utc:'%Y-%j'"}}},
 "mark":{"type":"text","color":"#ffff00","font":"Liberation Sans","fontSize":10,"align":"right","baseline":"middle"},
 "encoding":{
  "x":{"field":"d","type":"temporal","scale":{"type":"utc","padding":0,"domain":[{"year":1998,"month":7,"date":1,"utc":true},{"year":2008,"month":4,"date":27,"utc":true}]},
    "axis":{"orient":"bottom","values":[{"year":1998,"month":7,"date":1,"utc":true},{"year":1999,"month":1,"date":1,"utc":true},{"year":2000,"month":1,"date":1,"utc":true},{"year":2001,"month":1,"date":1,"utc":true},{"year":2002,"month":1,"date":1,"utc":true},{"year":2003,"month":1,"date":1,"utc":true},{"year":2004,"month":1,"date":1,"utc":true},{"year":2005,"month":1,"date":1,"utc":true},{"year":2006,"month":1,"date":1,"utc":true},{"year":2007,"month":1,"date":1,"utc":true},{"year":2008,"month":1,"date":1,"utc":true}],"format":"%Y","tickSize":15,"domain":false,"title":null,"tickColor":"#ffffff","labelColor":"#ffffff","labelFont":"Liberation Sans","labelFontSize":9.5,"labelAlign":"left","labelBaseline":"top","labelPadding":-11,"labelOffset":1.5,"labelOverlap":false,"labelBound":false,"labelFlush":false,"grid":false}},
  "y":{"field":"v","type":"quantitative","scale":{"domain":[1622,8722],"nice":false,"zero":false,"padding":0},
    "axis":{"orient":"right","values":[2000,2500,3000,3500,4000,4500,5000,5500,6000,6500,7000,7500,8000,8500],"format":"d","tickSize":7,"domain":false,"title":null,"tickColor":"#ffffff","labelColor":"#ffffff","labelFont":"Liberation Sans","labelFontSize":10,"labelAlign":"left","labelBaseline":"middle","labelPadding":9,"labelOverlap":false,"labelBound":false,"labelFlush":false,"grid":false}},
  "text":{"field":"t"}}},
{"data":{"values":[{"d":"2003-150","v":8582,"t":"DAX(7,018.64, 7,059.19, 6,896.94, 6,847.51, -121.160)"}],"format":{"parse":{"d":"utc:'%Y-%j'"}}},
 "mark":{"type":"text","color":"#ffffff","font":"Liberation Sans","fontSize":10,"align":"center","baseline":"alphabetic"},
 "encoding":{
  "x":{"field":"d","type":"temporal","scale":{"type":"utc","padding":0,"domain":[{"year":1998,"month":7,"date":1,"utc":true},{"year":2008,"month":4,"date":27,"utc":true}]},"axis":null},
  "y":{"field":"v","type":"quantitative","scale":{"domain":[1622,8722],"nice":false,"zero":false,"padding":0},"axis":null},
  "text":{"field":"t"}}},
{"data":{"values":[{"d":"2008-118","d2":"2008-272","v":1614,"v2":1400}],"format":{"parse":{"d":"utc:'%Y-%j'","d2":"utc:'%Y-%j'"}}},
 "mark":{"type":"rect","color":"#ffffff","clip":false},
 "encoding":{
  "x":{"field":"d","type":"temporal","scale":{"type":"utc","padding":0,"domain":[{"year":1998,"month":7,"date":1,"utc":true},{"year":2008,"month":4,"date":27,"utc":true}]},"axis":null},
  "x2":{"field":"d2"},
  "y":{"field":"v","type":"quantitative","scale":{"domain":[1622,8722],"nice":false,"zero":false,"padding":0},"axis":null},
  "y2":{"field":"v2"}}}
]
}
